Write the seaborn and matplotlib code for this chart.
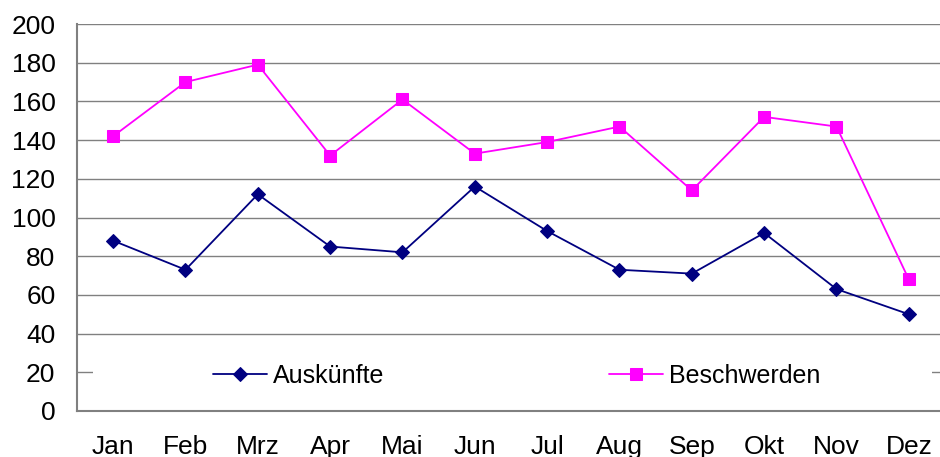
import pandas as pd
import numpy as np
import matplotlib
matplotlib.use("Agg")
import matplotlib.pyplot as plt
from matplotlib.patches import Rectangle
import seaborn as sns

months = ["Jan", "Feb", "Mrz", "Apr", "Mai", "Jun", "Jul", "Aug", "Sep", "Okt", "Nov", "Dez"]
auskuenfte = [88, 73, 112, 85, 82, 116, 93, 73, 71, 92, 63, 50]
beschwerden = [142, 170, 179, 132, 161, 133, 139, 147, 114, 152, 147, 68]
series_names = ["Auskünfte", "Beschwerden"]
y_ticks = [0, 20, 40, 60, 80, 100, 120, 140, 160, 180, 200]

df = pd.concat([
    pd.DataFrame({"Monat": months, "Wert": auskuenfte, "Serie": series_names[0]}),
    pd.DataFrame({"Monat": months, "Wert": beschwerden, "Serie": series_names[1]}),
])

sns.set_style("white")
plt.rcParams["font.family"] = ["Liberation Sans", "DejaVu Sans"]
plt.rcParams["text.color"] = "black"
plt.rcParams["xtick.labelcolor"] = "black"
plt.rcParams["ytick.labelcolor"] = "black"

fig = plt.figure(figsize=(9.4, 4.57), dpi=100)
ax = fig.add_axes([77 / 940, 46 / 457, 868 / 940, 387 / 457])

colors = {"Auskünfte": "#000080", "Beschwerden": "#FF00FF"}
sns.lineplot(data=df, x="Monat", y="Wert", hue="Serie", style="Serie",
             markers={"Auskünfte": "D", "Beschwerden": "s"}, dashes=False,
             palette=colors, linewidth=1.3, ax=ax, legend=False)

for line, ms in zip(ax.lines, [7.5, 8]):
    line.set_markeredgecolor(line.get_color())
    line.set_markersize(ms)

ax.set_xlim(-0.5, 11.5)
ax.set_ylim(0, 200)
ax.set_yticks(y_ticks)
ax.yaxis.grid(True, color="#808080", linewidth=1)
ax.set_axisbelow(True)

# Excel style: ticks on category borders, labels centred
ax.set_xticks(np.arange(-0.5, 12, 1))
ax.set_xticklabels([])
ax.set_xticks(np.arange(12), minor=True)
ax.set_xticklabels(months, minor=True)
ax.tick_params(axis="x", which="major", length=4.5, color="#808080", width=1)
ax.tick_params(axis="x", which="minor", length=0, pad=17, labelsize=19)
ax.tick_params(axis="y", length=6.5, color="#808080", width=1, pad=9, labelsize=19)
ax.set_xlabel("")
ax.set_ylabel("")

for s in ["top", "right"]:
    ax.spines[s].set_visible(False)
for s in ["left", "bottom"]:
    ax.spines[s].set_color("#808080")
    ax.spines[s].set_linewidth(1.5)

# white legend area hiding the 20 gridline
ax.add_patch(Rectangle((93 / 940, 62 / 457), 839 / 940, 43 / 457,
                       transform=fig.transFigure, facecolor="white",
                       edgecolor="none", zorder=1.5, clip_on=False))

ax.legend(ax.lines[:2], series_names, loc="center left",
          bbox_to_anchor=(200 / 940, 81 / 457), bbox_transform=fig.transFigure,
          ncol=2, frameon=False, fontsize=18, borderpad=0,
          handlelength=2.16, handletextpad=0.25, columnspacing=9.0)

fig.savefig("out.png", dpi=100)
